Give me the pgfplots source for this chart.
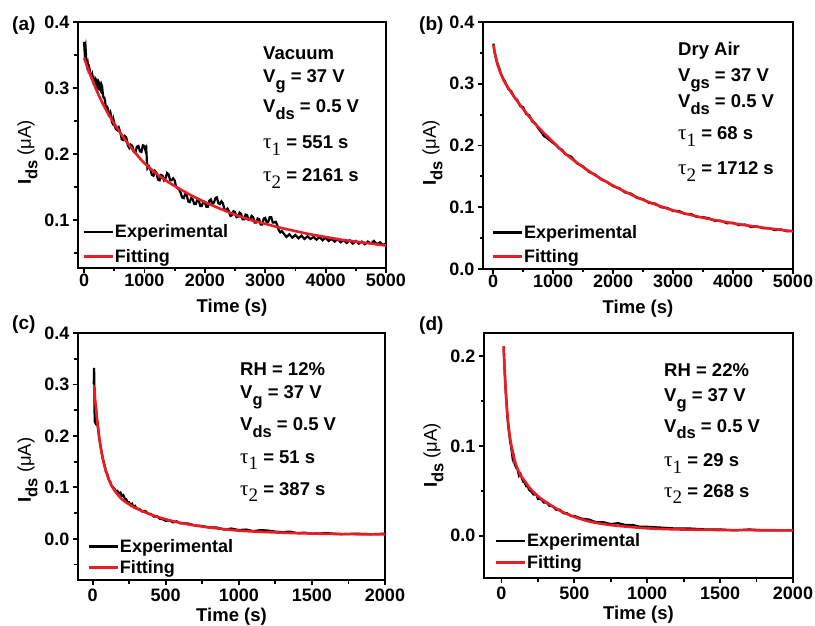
\documentclass[border=0pt]{standalone}
\usepackage{fontspec}
\setmainfont{Liberation Sans}
\newfontfamily\tfont{Liberation Serif}
\usepackage{pgfplots}
\pgfplotsset{compat=1.18}
\definecolor{fitred}{RGB}{236,28,36}
\newcommand{\fs}[1]{\fontsize{#1}{#1}\selectfont}
\newcommand{\sub}[1]{\raisebox{-6.5pt}{\fs{16.5}#1}}
\newcommand{\taus}[1]{{\tfont\mdseries\fs{21}τ}\raisebox{-6.5pt}{\tfont\mdseries\fs{19}#1}}
\pgfplotsset{
  panel/.style={
    scale only axis, anchor=south west,
    axis line style={line width=2.4pt},
    tick align=outside, xtick pos=left, ytick pos=left,
    major tick length=5pt, minor tick length=3.5pt,
    tick style={line width=1.8pt, black},
    tick label style={font=\fs{18}\bfseries},
    /pgf/number format/assume math mode=true,
    scaled ticks=false,
    xticklabel style={inner sep=1pt, /pgf/number format/set thousands separator={}},
    yticklabel style={/pgf/number format/fixed, /pgf/number format/fixed zerofill, /pgf/number format/precision=1},
    xlabel={Time (s)},
    ylabel={I\sub{ds} {\mdseries (μA)}},
    label style={font=\fs{18.5}\bfseries},
    legend cell align=left,
    legend style={at={(0,0)}, anchor=south west, draw=none, fill=none,
      font=\fs{18}\bfseries, inner xsep=3pt, inner ysep=1pt,
      nodes={inner sep=1pt}},
    legend image code/.code={\draw[##1, line width=2.8pt] (0pt,0pt) -- (29pt,0pt);},
  },
  expt/.style={black, line width=2.2pt},
  fitc/.style={fitred, line width=2.6pt, smooth},
}
\begin{document}
\begin{tikzpicture}
\path[use as bounding box] (0pt,0pt) rectangle (815pt,625pt);
% (a)
\begin{axis}[panel, at={(78pt,357pt)}, width=308pt, height=246pt,
  xmin=-100, xmax=5000, ymin=0.027, ymax=0.4,
  xtick={0,1000,...,5000}, minor xtick={500,1500,...,4500},
  ytick={0.1,0.2,0.3,0.4}, minor ytick={0.05,0.15,0.25,0.35},
  legend style={row sep=8pt, xshift=1pt, yshift=2pt},
  xlabel style={yshift=-8pt}, ylabel style={at={(ticklabel cs:0.47)}}]
\addplot[expt] coordinates {(0,.370)(10,.355)(25,.362)(40,.338)(50,.333)(62,.337)(75,.327)(88,.330)(100,.324)(112,.318)(125,.316)(138,.320)(150,.313)(162,.306)(175,.305)(188,.314)(200,.312)(212,.302)(225,.300)(238,.310)(250,.308)(262,.298)(275,.296)(288,.305)(300,.302)(312,.290)(325,.285)(338,.285)(350,.279)(362,.270)(375,.268)(388,.270)(400,.266)(412,.258)(425,.258)(438,.262)(450,.257)(462,.248)(475,.246)(488,.252)(500,.247)(525,.238)(550,.236)(575,.240)(600,.233)(625,.222)(650,.221)(675,.227)(700,.225)(725,.213)(750,.209)(775,.214)(800,.212)(825,.203)(850,.202)(875,.211)(900,.212)(925,.204)(950,.203)(975,.213)(1000,.212)(1015,.206)(1030,.209)(1040,.190)(1050,.178)(1075,.181)(1100,.176)(1125,.168)(1150,.167)(1175,.174)(1200,.171)(1225,.161)(1250,.160)(1275,.168)(1300,.167)(1325,.160)(1350,.163)(1375,.171)(1400,.169)(1425,.160)(1450,.160)(1475,.163)(1500,.160)(1525,.150)(1550,.148)(1575,.146)(1600,.141)(1625,.134)(1650,.133)(1675,.139)(1700,.138)(1725,.128)(1750,.127)(1775,.133)(1800,.131)(1825,.124)(1850,.124)(1875,.130)(1900,.129)(1925,.121)(1950,.121)(1975,.128)(2000,.127)(2025,.120)(2050,.120)(2075,.129)(2100,.131)(2125,.124)(2150,.126)(2175,.133)(2200,.134)(2225,.125)(2250,.124)(2275,.128)(2300,.125)(2325,.116)(2350,.114)(2375,.117)(2400,.113)(2425,.106)(2450,.107)(2475,.113)(2500,.112)(2525,.104)(2550,.105)(2575,.111)(2600,.109)(2625,.101)(2650,.101)(2675,.108)(2700,.107)(2725,.100)(2750,.101)(2775,.106)(2800,.104)(2825,.096)(2850,.096)(2875,.102)(2900,.101)(2925,.093)(2950,.093)(2975,.102)(3000,.103)(3025,.096)(3050,.097)(3075,.104)(3100,.104)(3125,.096)(3150,.096)(3175,.097)(3200,.092)(3225,.084)(3250,.081)(3275,.083)(3300,.080)(3350,.074)(3400,.078)(3450,.073)(3500,.077)(3550,.072)(3600,.076)(3650,.071)(3700,.075)(3750,.071)(3800,.074)(3850,.070)(3900,.074)(3950,.069)(4000,.073)(4050,.068)(4100,.071)(4150,.067)(4200,.071)(4250,.066)(4300,.069)(4350,.065)(4400,.069)(4450,.064)(4500,.068)(4550,.064)(4600,.067)(4650,.063)(4700,.067)(4750,.064)(4800,.068)(4850,.063)(4900,.066)(4950,.062)(5000,.064)};
\addlegendentry{Experimental}
\addplot[fitc] coordinates {(0,.346)(50,.333)(100,.321)(200,.298)(300,.278)(400,.261)(500,.246)(600,.232)(700,.219)(800,.207)(900,.196)(1000,.186)(1200,.170)(1400,.157)(1600,.146)(1800,.136)(2000,.127)(2250,.117)(2500,.108)(2750,.100)(3000,.094)(3250,.088)(3500,.083)(3750,.078)(4000,.074)(4250,.070)(4500,.067)(4750,.064)(5000,.061)};
\addlegendentry{Fitting}
\end{axis}
% (b)
\begin{axis}[panel, at={(483pt,356pt)}, width=310pt, height=247pt,
  xmin=-170, xmax=5000, ymin=0, ymax=0.4,
  xtick={0,1000,...,5000}, minor xtick={500,1500,...,4500},
  ytick={0,0.1,0.2,0.3,0.4}, minor ytick={0.05,0.15,0.25,0.35},
  legend style={row sep=7.5pt, xshift=5pt, yshift=3pt},
  xlabel style={yshift=-8pt}, ylabel style={at={(ticklabel cs:0.47)}}]
\addplot[expt] coordinates {(5,.365)(20,.352)(40,.344)(60,.336)(80,.331)(100,.326)(125,.317)(150,.312)(175,.307)(200,.303)(250,.292)(300,.288)(350,.278)(400,.274)(450,.264)(500,.262)(550,.251)(600,.249)(650,.239)(700,.236)(750,.228)(800,.222)(850,.215)(900,.212)(950,.208)(1000,.204)(1050,.201)(1100,.195)(1150,.193)(1200,.186)(1300,.182)(1400,.171)(1500,.166)(1600,.157)(1700,.153)(1800,.145)(1900,.141)(2000,.134)(2100,.131)(2200,.124)(2300,.122)(2400,.115)(2500,.113)(2600,.107)(2700,.106)(2800,.100)(2900,.099)(3000,.094)(3100,.094)(3200,.089)(3300,.089)(3400,.084)(3500,.084)(3600,.082)(3700,.078)(3800,.078)(3900,.074)(4000,.075)(4100,.071)(4200,.072)(4300,.068)(4400,.069)(4500,.066)(4600,.066)(4700,.063)(4800,.064)(4900,.061)(5000,.062)};
\addlegendentry{Experimental}
\addplot[fitc] coordinates {(5,.363)(25,.351)(50,.340)(75,.330)(100,.323)(150,.311)(200,.301)(300,.286)(400,.272)(500,.259)(700,.235)(900,.215)(1200,.187)(1500,.165)(1800,.146)(2100,.130)(2500,.112)(3000,.095)(3500,.083)(4000,.074)(4500,.067)(5000,.061)};
\addlegendentry{Fitting}
\end{axis}
% (c)
\begin{axis}[panel, at={(78pt,45pt)}, width=307pt, height=247pt,
  xmin=-100, xmax=2000, ymin=-0.08, ymax=0.4,
  xtick={0,500,...,2000}, minor xtick={250,750,1250,1750},
  ytick={0,0.1,0.2,0.3,0.4}, minor ytick={-0.05,0.05,0.15,0.25,0.35},
  xticklabel style={yshift=-3pt},
  legend style={row sep=4.5pt, xshift=6pt, yshift=3pt},
  xlabel style={yshift=-2pt}, ylabel style={at={(ticklabel cs:0.445)}}]
\addplot[expt] coordinates {(8,.300)(10,.332)(12,.300)(14,.228)(18,.226)(22,.262)(26,.245)(30,.232)(35,.222)(40,.210)(45,.196)(50,.188)(55,.178)(60,.171)(70,.155)(80,.145)(90,.132)(100,.126)(110,.115)(120,.111)(130,.103)(140,.100)(150,.097)(160,.091)(170,.093)(180,.088)(190,.090)(200,.083)(210,.085)(220,.078)(230,.077)(240,.070)(250,.071)(260,.065)(270,.068)(280,.062)(290,.064)(300,.059)(320,.058)(340,.053)(360,.054)(380,.049)(400,.048)(420,.043)(440,.044)(460,.039)(480,.038)(500,.035)(525,.036)(550,.032)(575,.034)(600,.030)(650,.030)(700,.026)(750,.025)(800,.022)(850,.022)(900,.018)(950,.020)(1000,.017)(1050,.018)(1100,.015)(1150,.017)(1200,.016)(1250,.014)(1300,.013)(1350,.014)(1400,.011)(1450,.012)(1500,.010)(1600,.011)(1700,.009)(1800,.010)(1900,.009)(2000,.010)};
\addlegendentry{Experimental}
\addplot[fitc] coordinates {(10,.298)(20,.262)(30,.233)(40,.208)(50,.188)(60,.170)(80,.143)(100,.124)(125,.106)(150,.094)(200,.077)(250,.067)(300,.059)(400,.047)(500,.038)(600,.031)(700,.026)(800,.022)(1000,.016)(1200,.013)(1400,.011)(1600,.0097)(1800,.009)(2000,.0086)};
\addlegendentry{Fitting}
\end{axis}
% (d)
\begin{axis}[panel, at={(484pt,47pt)}, width=309pt, height=245pt,
  xmin=-120, xmax=2000, ymin=-0.047, ymax=0.2256,
  xtick={0,500,...,2000}, minor xtick={250,750,1250,1750},
  ytick={0,0.1,0.2}, minor ytick={0.05,0.15},
  xticklabel style={yshift=-3pt},
  legend style={row sep=5pt, xshift=7pt, yshift=6pt},
  xlabel style={yshift=-2pt}, ylabel style={at={(ticklabel cs:0.5)}}]
\addplot[expt] coordinates {(15,.208)(20,.190)(25,.172)(30,.158)(35,.146)(40,.133)(45,.124)(50,.117)(55,.111)(60,.104)(65,.100)(70,.094)(75,.088)(80,.092)(85,.089)(90,.080)(95,.078)(100,.076)(110,.074)(120,.067)(130,.069)(140,.064)(150,.060)(160,.059)(170,.055)(180,.055)(190,.051)(200,.050)(220,.046)(240,.046)(250,.041)(270,.041)(290,.037)(310,.037)(330,.033)(350,.033)(375,.029)(400,.029)(425,.025)(450,.025)(475,.022)(500,.022)(550,.019)(600,.018)(650,.015)(700,.015)(750,.013)(800,.014)(850,.012)(900,.012)(950,.010)(1000,.010)(1100,.009)(1200,.008)(1300,.008)(1400,.007)(1500,.007)(1600,.006)(1700,.007)(1800,.006)(1900,.006)(2000,.006)};
\addlegendentry{Experimental}
\addplot[fitc] coordinates {(15,.211)(20,.191)(30,.160)(40,.137)(50,.120)(60,.108)(80,.090)(100,.079)(125,.069)(150,.063)(200,.052)(250,.044)(300,.038)(400,.028)(500,.021)(600,.016)(700,.013)(800,.011)(1000,.0083)(1200,.0071)(1500,.0064)(2000,.006)};
\addlegendentry{Fitting}
\end{axis}
% panel labels
\begin{scope}[every node/.style={anchor=base west, font=\fs{19}\bfseries, inner sep=0pt}]
\node at (12pt,594pt) {(a)};
\node at (419pt,594pt) {(b)};
\node at (12pt,295pt) {(c)};
\node at (419pt,294pt) {(d)};
\end{scope}
% annotations
\begin{scope}[every node/.style={anchor=base west, font=\fs{18.5}\bfseries, inner sep=0pt}]
\node at (263pt,565pt) {Vacuum};
\node at (263pt,542pt) {V\sub{g} = 37 V};
\node at (263pt,512pt) {V\sub{ds} = 0.5 V};
\node at (263pt,476pt) {\taus{1} = 551 s};
\node at (263pt,443pt) {\taus{2} = 2161 s};
\node at (678pt,569pt) {Dry Air};
\node at (678pt,543pt) {V\sub{gs} = 37 V};
\node at (678pt,517pt) {V\sub{ds} = 0.5 V};
\node at (678pt,485pt) {\taus{1} = 68 s};
\node at (678pt,450pt) {\taus{2} = 1712 s};
\node at (240pt,249pt) {RH = 12\%};
\node at (240pt,226pt) {V\sub{g} = 37 V};
\node at (240pt,194pt) {V\sub{ds} = 0.5 V};
\node at (240pt,162pt) {\taus{1} = 51 s};
\node at (240pt,130pt) {\taus{2} = 387 s};
\node at (664pt,248pt) {RH = 22\%};
\node at (664pt,223pt) {V\sub{g} = 37 V};
\node at (664pt,193pt) {V\sub{ds} = 0.5 V};
\node at (664pt,158pt) {\taus{1} = 29 s};
\node at (664pt,128pt) {\taus{2} = 268 s};
\end{scope}
\end{tikzpicture}
\end{document}
